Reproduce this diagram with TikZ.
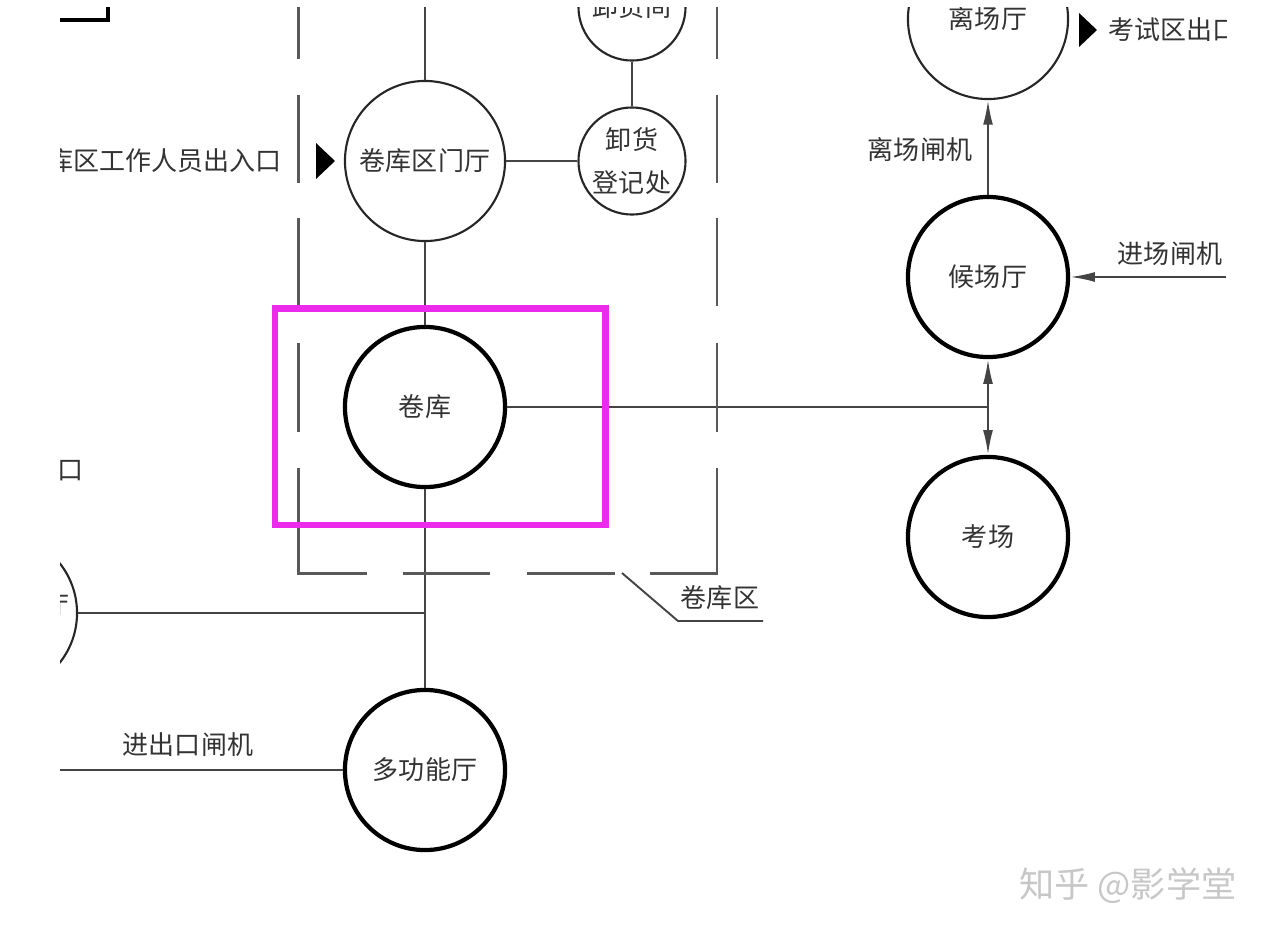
\documentclass[tikz,border=0pt]{standalone}
\usepackage{fontspec}
\setmainfont{Noto Sans CJK SC}
\usepackage{tikz}
\usetikzlibrary{arrows.meta, positioning}
\definecolor{HiMagenta}{HTML}{EC2AEC}
\definecolor{LineGray}{HTML}{444444}

\begin{document}
\begin{tikzpicture}[x=0.01cm, y=-0.01cm,
  font=\fontsize{7.4}{9}\selectfont, text=black!80,
  room/.style={circle, draw=black!85, line width=0.6pt, minimum size=1.6cm, inner sep=0pt, align=center},
  mainroom/.style={room, draw=black, line width=1.2pt},
  smallroom/.style={room, minimum size=1.07cm},
  link/.style={draw=LineGray, line width=0.55pt},
  gate/.style={link, -{Latex[length=7pt,width=2.8pt]}},
  zone/.style={draw=black!65, line width=0.85pt},
  lbl/.style={inner sep=1pt}]
\useasboundingbox (0,0) rectangle (1284,939);

\begin{scope}
\clip (60,7) rectangle (1226,930);

% --- rooms ---
\node[mainroom] (vault) at (425,407) {卷库};
\node[room] (vaultHall) at (425,161) {卷库区门厅};
\node[smallroom, font=\fontsize{7.4}{12.2}\selectfont] (unloadReg) at (632,161) {卸货\\登记处};
\node[smallroom] (unloadRoom) at (632,7) {卸货间};
\node[mainroom] (multiHall) at (425,770) {多功能厅};
\node[room] (sideHall) at (-3,613) {};
\node[room] (leaveHall) at (988,19) {离场厅};
\node[mainroom] (waitHall) at (988,277) {候场厅};
\node[mainroom] (exam) at (988,537) {考场};

% --- links ---
\coordinate (topIn) at (425,0);
\coordinate (tee) at (425,613);
\coordinate (fork) at (988,407);
\coordinate (gateIn) at (1226,277);
\coordinate (gateOut) at (60,770);
\draw[link] (unloadRoom) -- (unloadReg);
\draw[link] (vaultHall) -- (unloadReg);
\draw[link] (topIn) -- (vaultHall);
\draw[link] (vaultHall) -- (vault);
\draw[link] (vault) -- (multiHall);
\draw[link] (sideHall) -- (tee);
\draw[link] (vault) -- (fork);
\draw[gate] (fork) -- (waitHall);
\draw[gate] (fork) -- (exam);
\draw[gate] (waitHall) -- (leaveHall);
\draw[gate] (gateIn) -- (waitHall);
\draw[link] (gateOut) -- (multiHall);

% --- labels ---
\node[lbl] (gateInLbl) at (1170,254) {进场闸机};
\node[lbl] (gateOutLbl) at (920,150) {离场闸机};
\node[lbl] (doorLbl) at (188,745) {进出口闸机};
\node[lbl, anchor=east] (staffLbl) at (286,161) {卷库区工作人员出入口};
\node[lbl, anchor=west] (examOutLbl) at (1104,30) {考试区出口};
\node[lbl] (leftLbl) at (71,471) {口};
\node[lbl, anchor=east] (sideLbl) at (74,606) {厅};
\node[lbl] (zoneLbl) at (720,598) {卷库区};
\fill (316,143) -- (335,161) -- (316,179) -- cycle;
\fill (1079,13) -- (1097,30) -- (1079,47) -- cycle;

% --- zone boundary ---
\foreach \a/\b in {7/59, 95/183, 218/306, 343/432} {
  \draw[zone] (298.5,\a) -- (298.5,\b);
  \draw[zone] (717,\a) -- (717,\b);
}
\draw[zone] (298.5,468) -- (298.5,573) -- (367,573);
\draw[zone] (717,468) -- (717,573) -- (650,573);
\foreach \a/\b in {403/490, 527/615} \draw[zone] (\a,573) -- (\b,573);
\draw[link] (622,573) -- (678,621) -- (763,621);

\draw[black, line width=1.2pt] (60,20) -- (108,20) -- (108,0);

% highlight
\draw[HiMagenta, line width=1.9pt] (275,308.5) rectangle (605.5,525);
\end{scope}

\node[text=black!22, font=\fontsize{10}{12}\selectfont] (mark) at (1128,886) {知乎 @影学堂};
\end{tikzpicture}
\end{document}
